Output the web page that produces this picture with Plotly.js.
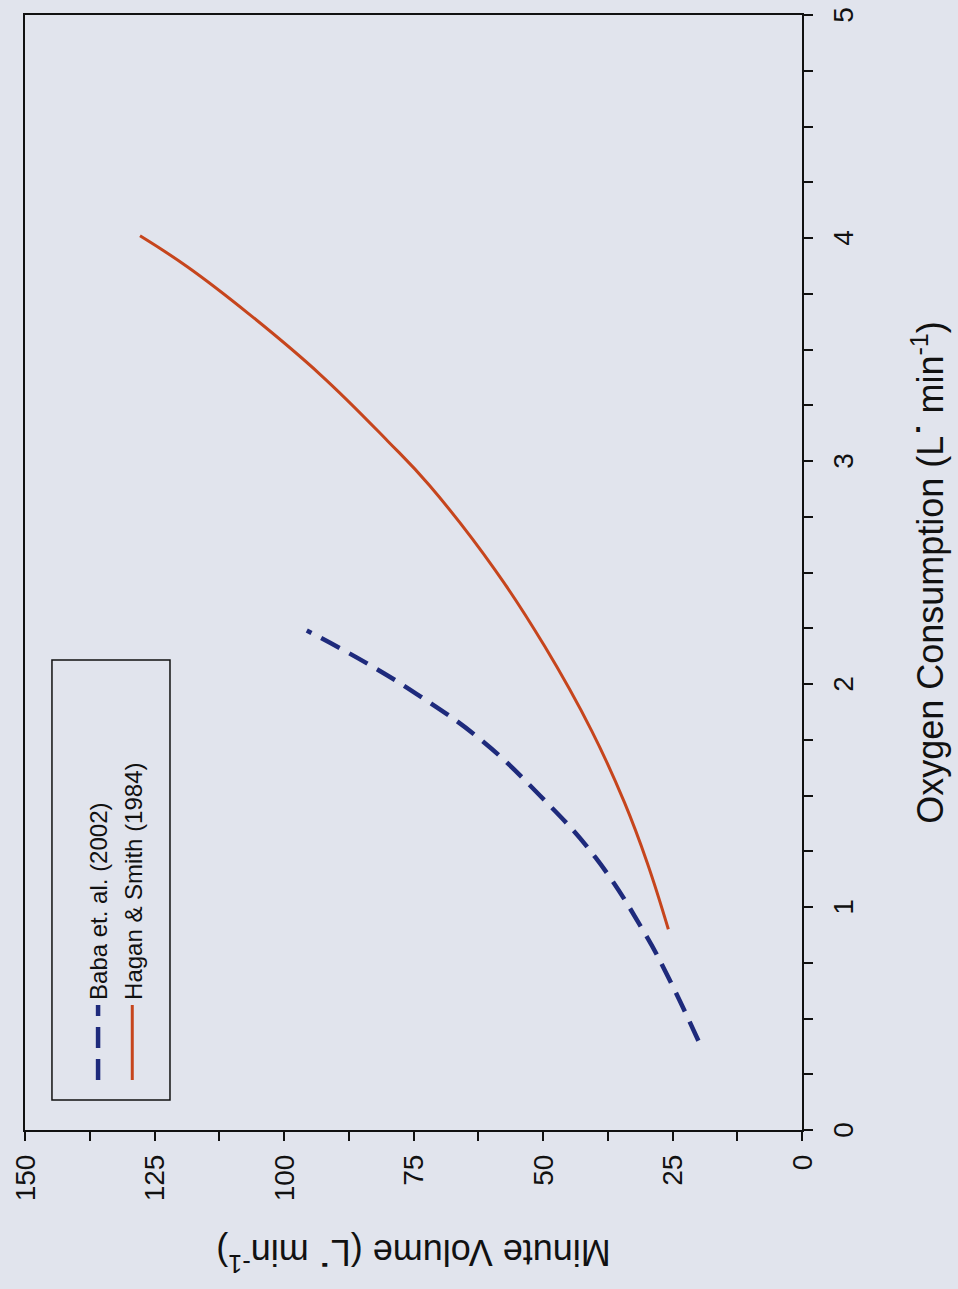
<!DOCTYPE html>
<html>
<head>
<meta charset="utf-8">
<script src="https://cdn.plot.ly/plotly-3.0.1.min.js"></script>
<style>
  html, body { margin: 0; padding: 0; width: 958px; height: 1289px; overflow: hidden; background: #e1e4ed; }
  #chart {
    position: absolute; left: 0; top: 0;
    width: 1289px; height: 958px;
    transform-origin: 0 0;
    transform: translateY(1289px) rotate(-90deg);
  }
</style>
</head>
<body>
<div id="chart"></div>
<script>
// Oxygen consumption (L/min) and minute volume (L/min)
const babaO2 = [0.40, 0.67, 0.88, 1.22, 1.50, 1.75, 1.94, 2.09, 2.24];
const babaVE = [20.0, 25.5, 30.3, 39.8, 50.6, 62.0, 73.4, 83.8, 95.6];
const haganO2 = [0.90, 1.20, 1.47, 1.79, 2.17, 2.51, 2.89, 3.09, 3.39, 3.66, 3.87, 4.01];
const haganVE = [25.8, 29.9, 34.3, 40.6, 49.7, 59.2, 71.9, 80.0, 93.1, 106.8, 118.6, 127.8];
const seriesNames = ['Baba et. al. (2002)', 'Hagan &amp; Smith (1984)'];
const xTitle = 'Oxygen Consumption (L<b>˙</b> min<sup>-1</sup>)';
const yTitle = 'Minute Volume (L<b>˙</b> min<sup>-1</sup>)';

const FONT = 'Arial, "Liberation Sans", sans-serif';
const traces = [
  { x: babaO2, y: babaVE, name: seriesNames[0], mode: 'lines',
    line: { color: '#1e2a7c', width: 4.5, dash: '21px,11px', shape: 'spline', smoothing: 1.2 } },
  { x: haganO2, y: haganVE, name: seriesNames[1], mode: 'lines',
    line: { color: '#c6451d', width: 3, shape: 'spline', smoothing: 1.2 } }
];
const axisCommon = {
  showgrid: false, zeroline: false, showline: true, mirror: true,
  linecolor: '#111', linewidth: 2,
  ticks: 'outside', ticklen: 9, tickwidth: 2, tickcolor: '#111',
  tickfont: { family: FONT, size: 28, color: '#111' }
};
const layout = {
  width: 1289, height: 958,
  paper_bgcolor: '#e1e4ed', plot_bgcolor: '#e1e4ed',
  margin: { l: 159, r: 15, t: 25, b: 156 },
  font: { family: FONT, color: '#111' },
  showlegend: true,
  legend: {
    x: 0.0404, y: 0.9344, xanchor: 'left', yanchor: 'top',
    bgcolor: 'rgba(0,0,0,0)', borderwidth: 0,
    font: { family: FONT, size: 24, color: '#111' },
    itemwidth: 75
  },
  shapes: [{
    type: 'rect', xref: 'paper', yref: 'paper',
    x0: 0.0269, x1: 0.4215, y0: 0.8134, y1: 0.9653,
    line: { color: '#111', width: 1.5 }, fillcolor: 'rgba(0,0,0,0)', layer: 'above'
  }],
  xaxis: Object.assign({}, axisCommon, {
    range: [0, 5], dtick: 1, tick0: 0,
    ticklabelstandoff: 6,
    minor: { dtick: 0.25, ticks: 'outside', ticklen: 9, tickwidth: 2, tickcolor: '#111' },
    title: { text: xTitle, font: { family: FONT, size: 36, color: '#111' }, standoff: 60 }
  }),
  yaxis: Object.assign({}, axisCommon, {
    range: [0, 150], dtick: 25, tick0: 0,
    ticklabelstandoff: 8,
    minor: { dtick: 12.5, ticks: 'outside', ticklen: 9, tickwidth: 2, tickcolor: '#111' },
    title: { text: yTitle, font: { family: FONT, size: 36, color: '#111' }, standoff: 27 }
  })
};
Plotly.newPlot('chart', traces, layout, { displayModeBar: false, staticPlot: true });
</script>
</body>
</html>
